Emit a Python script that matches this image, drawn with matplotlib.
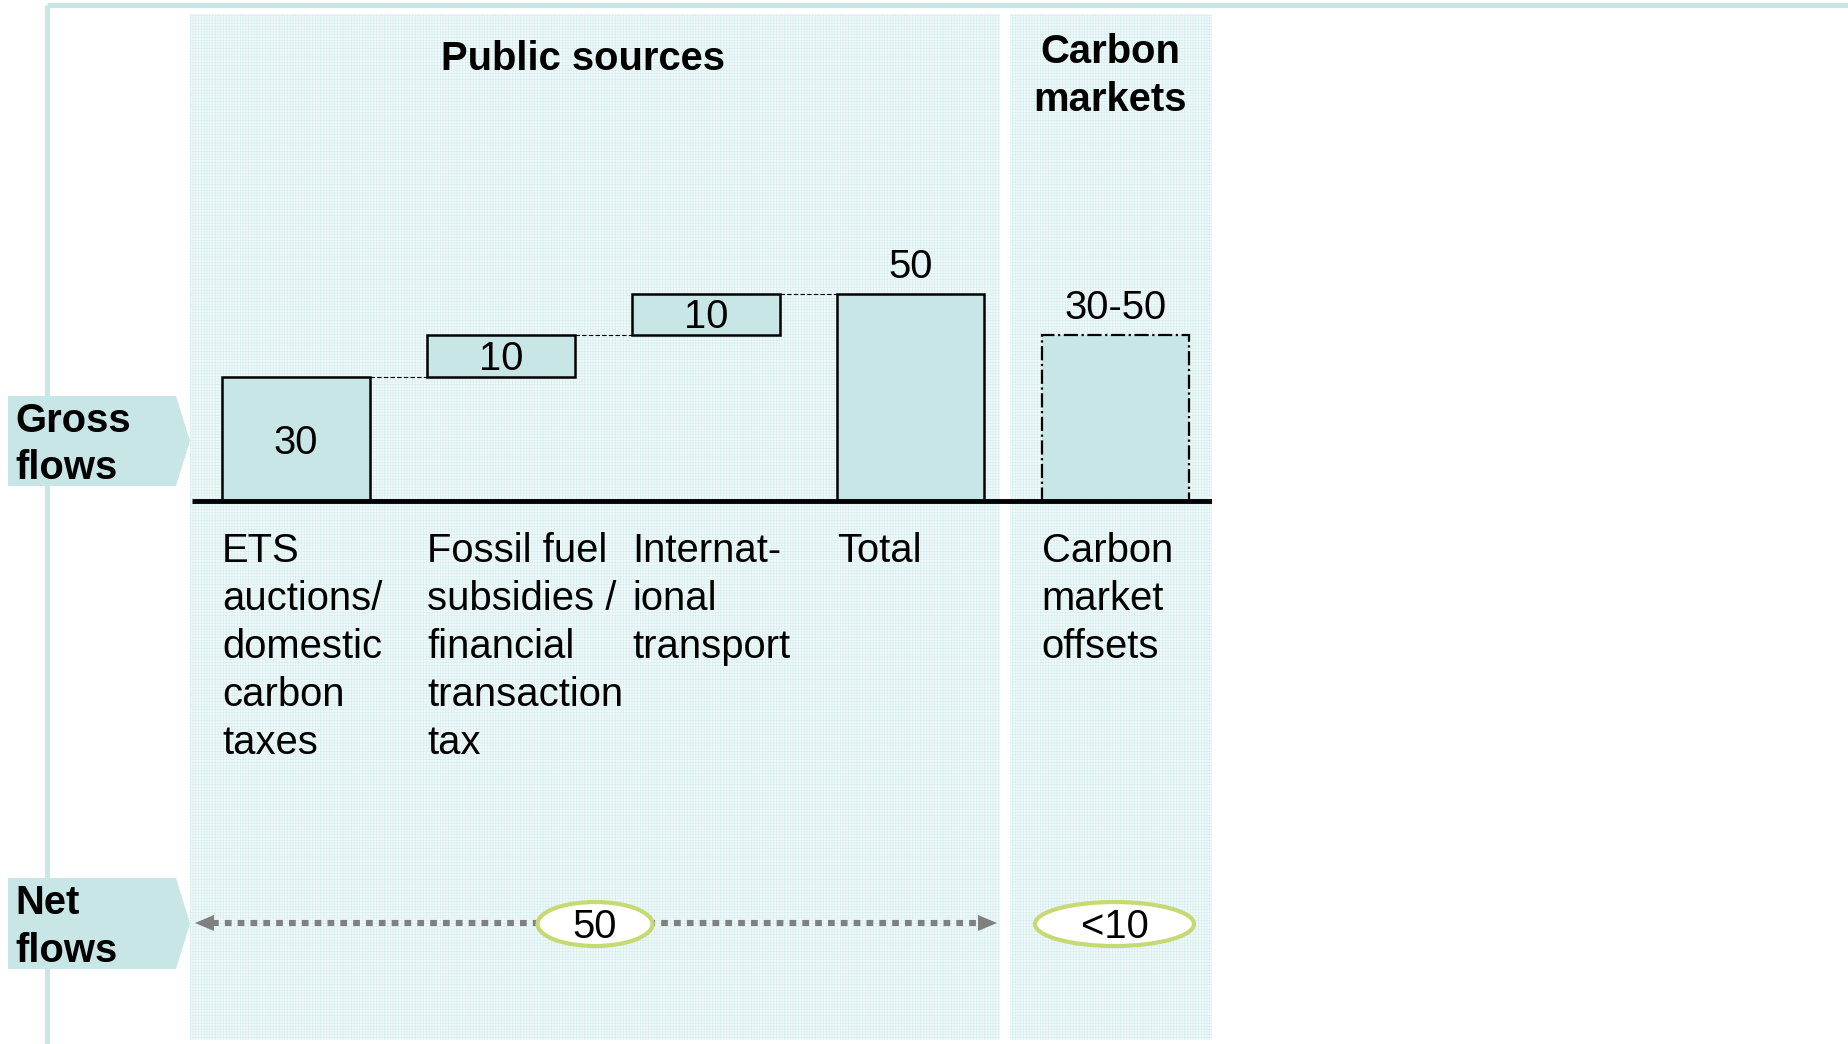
import matplotlib.pyplot as plt
from matplotlib.patches import Rectangle, Polygon, Ellipse

plt.rcParams['font.family'] = ['Liberation Sans', 'DejaVu Sans']
plt.rcParams['hatch.linewidth'] = 0.4

# data
categories = ["ETS\nauctions/\ndomestic\ncarbon\ntaxes",
              "Fossil fuel\nsubsidies /\nfinancial\ntransaction\ntax",
              "Internat-\nional\ntransport",
              "Total",
              "Carbon\nmarket\noffsets"]
bar_bottoms = [0, 30, 40, 0, 0]
bar_heights = [30, 10, 10, 50, 40]
bar_labels = ["30", "10", "10", "50", "30-50"]
label_inside = [True, True, True, False, False]
net_labels = ["50", "<10"]
group_titles = ["Public sources", "Carbon\nmarkets"]

TEAL = '#c8e6e6'
PANEL = '#f0f9f9'
GREEN = '#c5da72'
GREY = '#808080'
FS = 28.8
LSP = 1.33

W, H = 1848, 1044
fig = plt.figure(figsize=(W / 100, H / 100), dpi=100)

# background axes in pixel coords (y down) for the layout decorations
bg = fig.add_axes([0, 0, 1, 1])
bg.set_xlim(0, W)
bg.set_ylim(H, 0)
bg.axis('off')

# outer frame lines
bg.plot([47, 47], [5, H], color=TEAL, lw=3.5, solid_capstyle='butt')
bg.plot([47, W], [5, 5], color=TEAL, lw=3.5, solid_capstyle='butt')

# panels
for x0, x1 in [(190, 1000), (1010, 1212)]:
    bg.add_patch(Rectangle((x0, 14), x1 - x0, 1026, facecolor=PANEL,
                           edgecolor='#d6eded', hatch='++++++', lw=0))

# group titles
bg.text(583, 59, group_titles[0], ha='center', va='center', fontsize=FS,
        fontweight='bold')
bg.text(1110, 76, group_titles[1], ha='center', va='center', fontsize=FS,
        fontweight='bold', linespacing=LSP)

# side tags
for (y0, y1), txt in [((396, 486), "Gross\nflows"), ((878, 969), "Net\nflows")]:
    ym = (y0 + y1) / 2
    bg.add_patch(Polygon([(8, y0), (176, y0), (190, ym), (176, y1), (8, y1)],
                         closed=True, facecolor=TEAL, edgecolor='none'))
    bg.text(15, ym + 3.5, txt, ha='left', va='center', fontsize=FS,
            fontweight='bold', linespacing=LSP)

# chart axes: x = category index, y = value
L, R, B, T = 190, 1212, 1040, 14
ax = fig.add_axes([L / W, 1 - B / H, (R - L) / W, (B - T) / H])
px_x = 204.9   # pixels per category
px_y = 4.14    # pixels per unit
x0_px, y0_px = 296, 501
ax.set_xlim((L - x0_px) / px_x, (R - x0_px) / px_x)
ax.set_ylim(-(B - y0_px) / px_y, (y0_px - T) / px_y)
ax.axis('off')

width = 0.72
xs = range(len(categories))
for i in xs:
    ls = '-.' if i == 4 else '-'
    lw = 1.6 if i == 4 else 1.8
    ax.bar(i, bar_heights[i], width, bottom=bar_bottoms[i], color=TEAL,
           edgecolor='black', linewidth=lw, linestyle=ls, zorder=3)
    top = bar_bottoms[i] + bar_heights[i]
    if label_inside[i]:
        ax.annotate(bar_labels[i], (i, bar_bottoms[i] + bar_heights[i] / 2),
                    xytext=(0, 1 if bar_heights[i] < 20 else 0),
                    textcoords='offset points', ha='center',
                    va='center_baseline', fontsize=FS, zorder=4)
    else:
        ax.annotate(bar_labels[i], (i, top), xytext=(0, 6),
                    textcoords='offset points', ha='center', va='bottom',
                    fontsize=FS)
    ax.text(i - width / 2, -7.6, categories[i], ha='left', va='top',
            fontsize=FS, linespacing=LSP)

# waterfall connectors
for i in range(3):
    top = bar_bottoms[i] + bar_heights[i]
    ax.plot([i + width / 2, i + 1 - width / 2], [top, top], color='black',
            lw=0.8, ls=(0, (4, 2)), zorder=2)

# baseline
ax.plot([(192 - x0_px) / px_x, (1214 - x0_px) / px_x], [0, 0], color='black',
        lw=3.5, solid_capstyle='butt', zorder=5)

# net flows row
ya = 923
bg.plot([212, 980], [ya, ya], color=GREY, lw=4.4, ls=(0, (1.1, 1.0)),
        solid_capstyle='butt')
bg.add_patch(Polygon([(195, ya), (214, ya - 8), (214, ya + 8)], closed=True,
                     facecolor=GREY, edgecolor='none'))
bg.add_patch(Polygon([(997, ya), (978, ya - 8), (978, ya + 8)], closed=True,
                     facecolor=GREY, edgecolor='none'))
for (cx, w), txt in zip([(595, 115), (1114.5, 159)], net_labels):
    bg.add_patch(Ellipse((cx, ya + 1), w, 44, facecolor='white',
                         edgecolor=GREEN, lw=3, zorder=4))
    bg.text(cx, ya, txt, ha='center', va='center_baseline', fontsize=FS,
            zorder=5)

fig.savefig('out.png', dpi=100)
